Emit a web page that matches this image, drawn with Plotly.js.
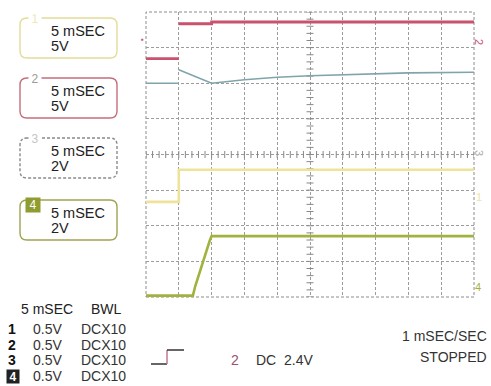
<!DOCTYPE html>
<html>
<head>
<meta charset="utf-8">
<script src="https://cdn.plot.ly/plotly-3.0.1.min.js"></script>
<style>html,body{margin:0;padding:0;background:#fff;}#chart{width:491px;height:386px;}</style>
</head>
<body>
<div id="chart"></div>
<script>
// ---- data (screen divisions: 10 horizontal x 8 vertical) ----
const ch1X = [0, 1, 1, 10];
const ch1Y = [2.67, 2.67, 3.57, 3.57];
const ch2X = [0, 1, null, 1, 2, 2, 10];
const ch2Y = [6.69, 6.69, null, 7.67, 7.67, 7.72, 7.72];
const ch3X = [0, 1, null, 1, 1.25, 1.5, 1.75, 2, 3, 4, 5, 6, 7, 8, 10];
const ch3Y = [6.0, 6.0, null, 6.38, 6.28, 6.18, 6.08, 6.0, 6.10, 6.17, 6.21, 6.24, 6.27, 6.29, 6.31];
const ch4X = [0, 1.43, 1.5, 1.75, 1.95, 2, 10];
const ch4Y = [0.04, 0.04, 0.3, 1.05, 1.6, 1.71, 1.71];

const boxChannels = ['1', '2', '3', '4'];
const boxTime = ['5 mSEC', '5 mSEC', '5 mSEC', '5 mSEC'];
const boxVolts = ['5V', '5V', '2V', '2V'];

const tableHeader = ['5 mSEC', 'BWL'];
const tableChannels = ['1', '2', '3', '4'];
const tableScale = ['0.5V', '0.5V', '0.5V', '0.5V'];
const tableCoupling = ['DCX10', 'DCX10', 'DCX10', 'DCX10'];

const triggerSource = '2';
const triggerText = 'DC  2.4V';
const statusLines = ['1 mSEC/SEC', 'STOPPED'];

// ---- layout helpers ----
const W = 491, H = 386;
const L = 146, R = 474, T = 12, B = 297;
const px = x => (x - L) / (R - L);
const py = y => (B - y) / (B - T);
const FONT = 'Liberation Sans, Arial, sans-serif';

const colors = {
  ch1: '#eee39a', ch2: '#c9526c', ch3: '#7fa4ab', ch4: '#a3b23e',
  grid: '#9c9c9c'
};

const traces = [];
// minor ticks on centre graticule lines
const tx = [], ty = [], vx = [], vy = [];
for (let i = 0; i <= 50; i++) { tx.push(i * 0.2); ty.push(4); }
for (let i = 0; i <= 40; i++) { vx.push(5); vy.push(i * 0.2); }
traces.push({x: tx, y: ty, mode: 'markers', type: 'scatter', hoverinfo: 'skip',
  marker: {symbol: 'line-ns', size: 5, line: {width: 1, color: '#888'}}});
traces.push({x: vx, y: vy, mode: 'markers', type: 'scatter', hoverinfo: 'skip',
  marker: {symbol: 'line-ew', size: 5, line: {width: 1, color: '#888'}}});

traces.push({x: ch3X, y: ch3Y, mode: 'lines', line: {color: colors.ch3, width: 1.6}});
traces.push({x: ch1X, y: ch1Y, mode: 'lines', line: {color: colors.ch1, width: 2.6}});
traces.push({x: ch4X, y: ch4Y, mode: 'lines', line: {color: colors.ch4, width: 2.6}});
traces.push({x: ch2X, y: ch2Y, mode: 'lines', line: {color: colors.ch2, width: 2.8}});

// ---- shapes ----
const shapes = [];
shapes.push({type: 'rect', xref: 'paper', yref: 'paper', x0: 0, x1: 1, y0: 0, y1: 1,
  line: {color: '#8c8c8c', width: 1, dash: '3px,2px'}, layer: 'below'});

function roundBox(x0, y0, x1, y1, r, color, dash) {
  const rx = r / (R - L), ry = r / (B - T);
  const X0 = px(x0), X1 = px(x1), Y0 = py(y0), Y1 = py(y1);
  const d = `M ${X0 + rx},${Y0} L ${X1 - rx},${Y0} Q ${X1},${Y0} ${X1},${Y0 - ry} ` +
    `L ${X1},${Y1 + ry} Q ${X1},${Y1} ${X1 - rx},${Y1} L ${X0 + rx},${Y1} ` +
    `Q ${X0},${Y1} ${X0},${Y1 + ry} L ${X0},${Y0 - ry} Q ${X0},${Y0} ${X0 + rx},${Y0} Z`;
  return {type: 'path', xref: 'paper', yref: 'paper', path: d,
    line: {color: color, width: 1.4, dash: dash || 'solid'}};
}
const boxTops = [18, 78, 138, 200];
const boxColors = ['#e4dc98', '#c56e7e', '#8a8a8a', '#a0a452'];
const boxDash = ['solid', 'solid', '3px,2px', 'solid'];
boxTops.forEach((t, i) => shapes.push(roundBox(20, t, 117, t + 40, 7, boxColors[i], boxDash[i])));

// trigger glyph
shapes.push({type: 'line', xref: 'paper', yref: 'paper', x0: px(151), x1: px(167), y0: py(364), y1: py(364), line: {color: '#333', width: 1.5}});
shapes.push({type: 'line', xref: 'paper', yref: 'paper', x0: px(167), x1: px(167), y0: py(364), y1: py(350), line: {color: '#c07890', width: 1.5}});
shapes.push({type: 'line', xref: 'paper', yref: 'paper', x0: px(167), x1: px(184), y0: py(350), y1: py(350), line: {color: '#333', width: 1.5}});

// ---- annotations ----
const ann = [];
function txt(x, y, text, opts) {
  const o = Object.assign({size: 14, color: '#222', xanchor: 'left', yanchor: 'middle'}, opts || {});
  const a = {xref: 'paper', yref: 'paper', x: px(x), y: py(y), text: text, showarrow: false,
    xanchor: o.xanchor, yanchor: o.yanchor, borderpad: 0,
    font: {family: FONT, size: o.size, color: o.color}};
  if (o.bg) a.bgcolor = o.bg;
  if (o.angle !== undefined) a.textangle = o.angle;
  if (o.width) a.width = o.width;
  if (o.height) a.height = o.height;
  if (o.align) a.align = o.align;
  return a;
}
const labelColors = ['#efe9b8', '#9a9a9a', '#c4c4c4', '#ffffff'];
boxTops.forEach((t, i) => {
  ann.push(txt(50, t + 13, boxTime[i], {size: 14.5}));
  ann.push(txt(50, t + 28, boxVolts[i], {size: 14.5}));
  if (i < 3) {
    ann.push(txt(28, t + 1, boxChannels[i], {size: 12, color: labelColors[i], bg: '#ffffff', width: 12}));
  } else {
    ann.push(txt(25, t + 5, boxChannels[i], {size: 12, color: '#ffffff', bg: '#8e9c30', width: 14, height: 14, align: 'center'}));
  }
});

// bottom-left table
ann.push(txt(20, 309, tableHeader[0], {size: 14}));
ann.push(txt(90, 309, tableHeader[1], {size: 14}));
const rowY = [329, 345, 360, 376];
tableChannels.forEach((c, i) => {
  if (i < 3) ann.push(txt(7, rowY[i], '<b>' + c + '</b>', {size: 14, color: '#111'}));
  else ann.push(txt(6, rowY[i], '<b>' + c + '</b>', {size: 12, color: '#fff', bg: '#222', width: 12, height: 13, align: 'center'}));
  ann.push(txt(32, rowY[i], tableScale[i], {size: 14, color: '#333'}));
  ann.push(txt(80, rowY[i], tableCoupling[i], {size: 14, color: '#333'}));
});

// trigger and status
ann.push(txt(230, 360, triggerSource, {size: 14, color: '#9a5070'}));
ann.push(txt(255, 360, triggerText, {size: 14, color: '#333'}));
ann.push(txt(488, 336, statusLines[0], {size: 14, color: '#333', xanchor: 'right'}));
ann.push(txt(488, 357, statusLines[1], {size: 14, color: '#333', xanchor: 'right'}));

// edge channel markers
ann.push(txt(479, 42, '2', {size: 11, color: colors.ch2, angle: 90, xanchor: 'center'}));
ann.push(txt(479, 153, '3', {size: 11, color: '#aaa', angle: 90, xanchor: 'center'}));
ann.push(txt(479, 197, '1', {size: 11, color: '#ece4a4', xanchor: 'center'}));
ann.push(txt(478, 287, '4', {size: 11, color: colors.ch4, xanchor: 'center'}));
ann.push(txt(142, 40, '▪', {size: 8, color: colors.ch2, xanchor: 'center'}));

const axisCommon = {showgrid: true, gridcolor: colors.grid, griddash: '3px,2px', gridwidth: 1,
  zeroline: false, showticklabels: false, ticks: '', showline: false, fixedrange: true, dtick: 1, tick0: 0};

const layout = {
  width: W, height: H,
  margin: {l: L, r: W - R, t: T, b: H - B, pad: 0},
  paper_bgcolor: '#ffffff', plot_bgcolor: '#ffffff',
  showlegend: false,
  xaxis: Object.assign({range: [0, 10]}, axisCommon),
  yaxis: Object.assign({range: [0, 8]}, axisCommon),
  shapes: shapes,
  annotations: ann,
  font: {family: FONT}
};

Plotly.newPlot('chart', traces, layout, {staticPlot: true, displayModeBar: false});
</script>
</body>
</html>
